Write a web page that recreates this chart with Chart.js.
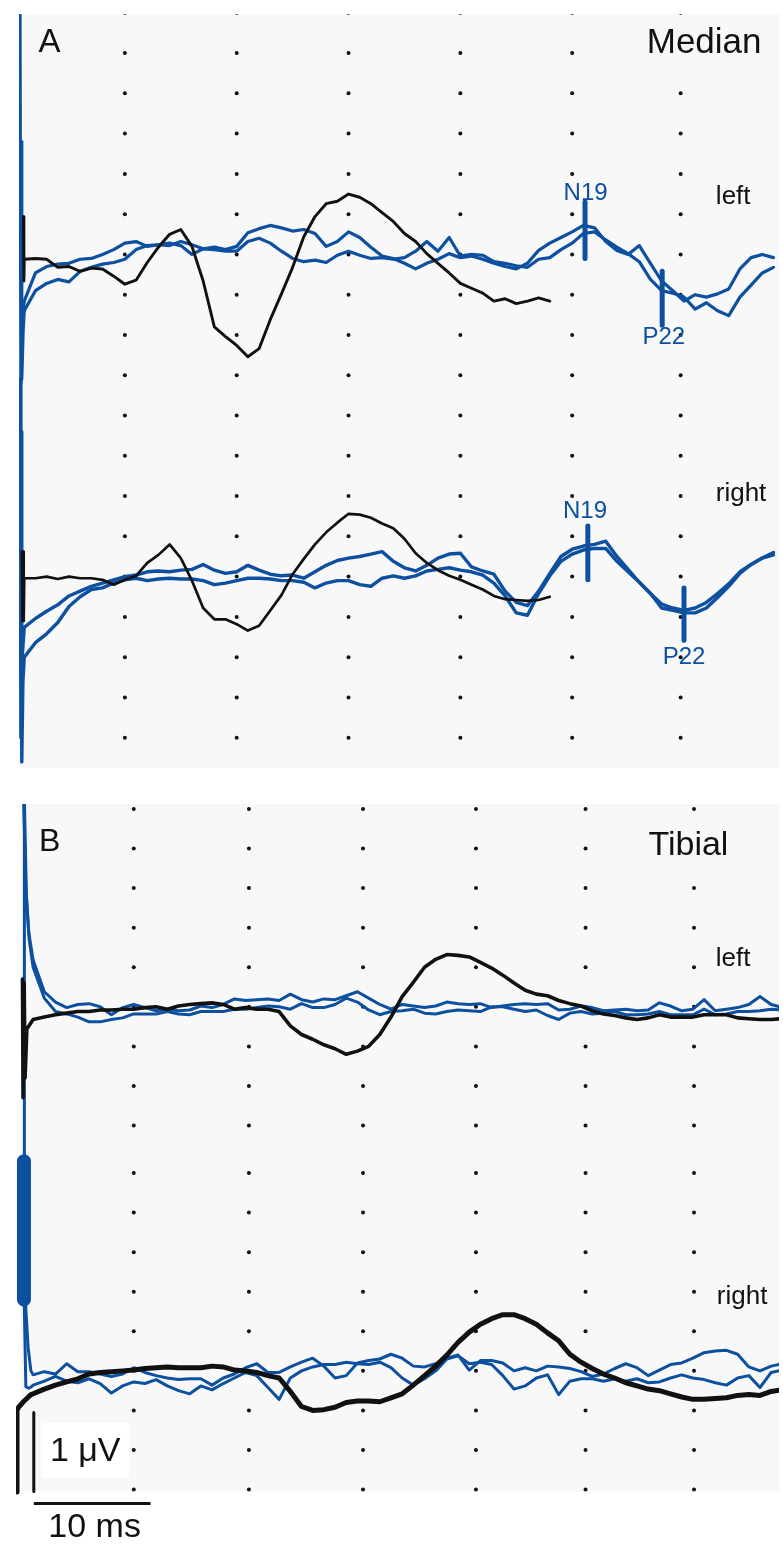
<!DOCTYPE html>
<html>
<head>
<meta charset="utf-8">
<script src="https://cdn.jsdelivr.net/npm/chart.js@4.4.1/dist/chart.umd.min.js"></script>
<style>
  body { margin: 0; background: #fff; width: 783px; height: 1548px; position: relative; overflow: hidden; }
  #chartA { position: absolute; left: 15px; top: 10px; }
  #chartB { position: absolute; left: 12px; top: 800px; }
</style>
</head>
<body>
<canvas id="chartA" width="768" height="762"></canvas>
<canvas id="chartB" width="771" height="748"></canvas>
<script>
// time base, ms after stimulus
const timeMs = [1,2,3,4,5,6,7,8,9,10,11,12,13,14,15,16,17,18,19,20,21,22,23,24,25,26,27,28,29,30,
  31,32,33,34,35,36,37,38,39,40,41,42,43,44,45,46,47,48,49,50,51,52,53,54,55,56,57,58,59,60,
  61,62,63,64,65,66,67,68];

// dotted grid (ms / uV)
const colsA = [10, 20, 30, 40, 50, 59.7];
const rowsA = [3, 2.5, 2, 1.5, 1, 0.5, 0, -0.5, -1, -1.5, -2, -2.5, -3, -3.5, -4, -4.5, -5, -5.5, -6];
const colsB = [10, 20.3, 30.5, 40.6, 50.4, 60.1];
const rowsB = [2.5, 2, 1.5, 1, 0.5, 0, -0.5, -1, -1.5, -2.1, -2.6, -3.1, -3.6, -4.1, -4.6, -5.1, -5.6, -6.1];

// baselines of the stacked recordings (uV)
const offsetA = [0, -4];
const offsetB = [0, -4.7];

// ---- A: median nerve, left ----
const medLeftBlack = [-0.06,-0.05,-0.06,-0.16,-0.15,-0.21,-0.17,-0.18,-0.27,-0.37,
  -0.32,-0.10,0.09,0.25,0.31,0.10,-0.33,-0.90,-1.02,-1.13,
  -1.27,-1.17,-0.81,-0.49,-0.16,0.22,0.47,0.63,0.66,0.75,
  0.71,0.63,0.52,0.41,0.26,0.16,0.01,-0.11,-0.23,-0.36,
  -0.42,-0.48,-0.58,-0.55,-0.61,-0.58,-0.54,-0.58];
const medLeftBlue1 = [-0.58,-0.23,-0.15,-0.12,-0.11,-0.06,-0.05,0.00,0.06,0.14,
  0.16,0.10,0.12,0.14,0.11,0.00,0.07,0.09,0.06,0.10,
  0.27,0.32,0.36,0.33,0.29,0.31,0.26,0.10,0.16,0.28,
  0.21,0.09,-0.02,-0.05,-0.11,-0.18,-0.11,-0.06,0.01,-0.04,
  -0.02,-0.06,-0.11,-0.15,-0.18,-0.11,0.05,0.14,0.21,0.28,
  0.36,0.33,0.16,0.05,0.00,0.11,-0.11,-0.33,-0.45,-0.58,
  -0.50,-0.53,-0.49,-0.43,-0.18,-0.04,0.00,-0.04];
const medLeftBlue2 = [-0.70,-0.45,-0.36,-0.31,-0.34,-0.21,-0.16,-0.12,-0.10,-0.06,
  0.06,0.11,0.12,0.11,0.16,0.12,0.07,0.06,0.04,0.04,
  0.16,0.20,0.14,0.04,-0.05,-0.09,-0.07,-0.10,-0.01,0.04,
  -0.01,-0.05,-0.04,-0.06,-0.04,0.04,0.16,0.04,0.21,-0.02,
  0.00,-0.01,-0.09,-0.11,-0.14,-0.16,-0.06,-0.04,0.06,0.14,
  0.26,0.28,0.18,0.09,0.01,-0.09,-0.31,-0.45,-0.48,-0.53,
  -0.68,-0.60,-0.70,-0.76,-0.53,-0.38,-0.23,-0.16];

// ---- A: median nerve, right ----
const medRightBlack = [-0.02,-0.02,0.00,-0.03,0.00,-0.02,-0.02,-0.04,-0.10,-0.04,
  0.01,0.17,0.27,0.40,0.23,-0.05,-0.39,-0.53,-0.53,-0.59,
  -0.67,-0.61,-0.42,-0.23,0.03,0.22,0.40,0.55,0.67,0.78,
  0.77,0.73,0.66,0.60,0.47,0.29,0.17,0.08,0.01,-0.04,
  -0.10,-0.16,-0.24,-0.28,-0.29,-0.30,-0.29,-0.25];
const medRightBlue1 = [-0.63,-0.52,-0.43,-0.35,-0.24,-0.18,-0.12,-0.08,-0.04,0.00,
  0.02,0.06,0.07,0.06,0.08,0.09,0.15,0.08,0.04,0.06,
  0.14,0.08,0.03,0.01,0.02,-0.02,0.06,0.14,0.20,0.23,
  0.25,0.28,0.31,0.19,0.11,0.07,0.14,0.23,0.28,0.29,
  0.12,0.07,0.03,-0.18,-0.32,-0.36,-0.18,0.04,0.25,0.34,
  0.38,0.40,0.44,0.25,0.09,-0.07,-0.21,-0.34,-0.39,-0.42,
  -0.39,-0.32,-0.21,-0.09,0.06,0.15,0.23,0.30];
const medRightBlue2 = [-1.00,-0.82,-0.71,-0.57,-0.37,-0.25,-0.16,-0.14,-0.08,-0.04,
  -0.02,-0.05,-0.03,-0.02,-0.03,-0.03,-0.05,-0.10,-0.08,-0.05,
  -0.02,-0.02,-0.03,-0.05,-0.05,-0.07,-0.14,-0.08,-0.05,-0.05,
  -0.10,-0.12,-0.02,0.01,-0.02,0.01,0.07,0.09,0.11,0.08,
  0.06,0.02,-0.08,-0.24,-0.45,-0.48,-0.21,0.01,0.19,0.28,
  0.33,0.35,0.35,0.19,0.06,-0.07,-0.21,-0.39,-0.42,-0.45,
  -0.45,-0.39,-0.26,-0.12,0.04,0.15,0.23,0.27];

// ---- B: tibial nerve, left ----
const tibLeftBlack = [-0.16,-0.13,-0.10,-0.08,-0.06,-0.06,-0.04,-0.04,-0.03,-0.03,
  -0.01,0.00,-0.03,0.01,0.03,0.04,0.05,0.03,-0.03,-0.01,
  -0.03,-0.03,-0.06,-0.24,-0.35,-0.41,-0.48,-0.53,-0.60,-0.56,
  -0.50,-0.35,-0.13,0.13,0.31,0.50,0.60,0.66,0.65,0.63,
  0.56,0.49,0.40,0.30,0.21,0.16,0.14,0.08,0.04,0.01,
  -0.05,-0.09,-0.11,-0.14,-0.16,-0.14,-0.10,-0.13,-0.13,-0.13,
  -0.10,-0.10,-0.10,-0.14,-0.15,-0.16,-0.16,-0.15];
const tibLeftBlue1 = [0.59,0.19,0.06,-0.01,0.03,0.04,0.00,-0.10,-0.01,0.03,
  -0.01,-0.05,-0.03,-0.05,-0.04,0.01,-0.01,0.03,0.10,0.08,
  0.09,0.10,0.08,0.16,0.09,0.06,0.10,0.09,0.14,0.19,
  0.11,0.03,-0.03,0.03,0.01,-0.01,0.01,0.06,0.04,0.03,
  0.04,-0.01,0.01,0.03,0.04,0.03,0.04,-0.04,-0.03,0.01,
  -0.01,-0.05,-0.04,-0.03,-0.05,-0.04,0.05,0.01,-0.05,-0.03,
  0.09,-0.05,-0.03,-0.01,0.03,0.13,0.03,-0.01];
const tibLeftBlue2 = [0.50,0.11,-0.06,-0.09,-0.13,-0.19,-0.19,-0.16,-0.14,-0.09,
  -0.09,-0.09,-0.06,-0.09,-0.10,-0.06,-0.06,-0.06,-0.03,-0.03,
  -0.01,0.01,0.00,-0.03,0.04,-0.01,-0.01,0.03,0.11,0.06,
  -0.04,-0.10,-0.06,-0.05,-0.03,-0.08,-0.09,-0.06,-0.04,-0.05,
  -0.06,0.00,0.00,-0.03,-0.06,-0.04,-0.11,-0.16,-0.08,-0.06,
  -0.09,-0.08,-0.06,-0.10,-0.10,-0.09,-0.06,-0.10,-0.10,-0.10,
  -0.03,-0.10,-0.09,-0.06,-0.06,-0.05,-0.03,-0.04];

// ---- B: tibial nerve, right ----
const tibRightBlack = [-0.19,-0.13,-0.08,-0.04,0.00,0.06,0.08,0.09,0.10,0.11,
  0.13,0.14,0.15,0.14,0.14,0.14,0.16,0.15,0.11,0.10,
  0.08,0.04,0.01,-0.16,-0.35,-0.40,-0.39,-0.36,-0.30,-0.28,
  -0.28,-0.29,-0.24,-0.19,-0.08,0.04,0.16,0.30,0.46,0.59,
  0.69,0.76,0.81,0.81,0.76,0.69,0.58,0.48,0.31,0.21,
  0.13,0.06,0.01,-0.05,-0.09,-0.13,-0.15,-0.19,-0.23,-0.26,
  -0.26,-0.25,-0.24,-0.21,-0.20,-0.21,-0.16,-0.14];
const tibRightBlue1 = [0.05,0.09,0.06,0.19,0.09,0.09,0.06,0.03,0.06,0.14,
  0.08,0.04,0.01,-0.01,0.00,0.00,-0.08,0.01,0.06,0.14,
  0.19,0.08,0.08,0.15,0.21,0.26,0.16,0.01,0.04,0.20,
  0.23,0.25,0.31,0.26,0.16,0.15,0.19,0.26,0.30,0.11,
  0.23,0.23,0.20,0.10,0.14,0.10,0.16,0.15,0.13,0.09,
  0.03,0.06,0.13,0.19,0.14,0.04,0.11,0.18,0.20,0.26,
  0.33,0.35,0.36,0.31,0.15,0.10,0.16,0.19];
const tibRightBlue2 = [-0.08,-0.03,0.03,-0.03,-0.05,0.00,-0.06,-0.18,-0.09,-0.04,
  -0.06,-0.01,-0.09,-0.15,-0.19,-0.09,-0.14,-0.06,0.01,0.08,
  0.04,-0.11,-0.26,0.01,0.10,0.15,0.18,0.18,0.21,0.19,
  0.18,0.21,0.14,0.01,-0.08,0.00,0.10,0.25,0.29,0.19,
  0.21,0.18,0.04,-0.13,-0.09,0.01,0.05,-0.20,-0.03,0.00,
  0.00,-0.03,0.00,-0.03,0.00,-0.05,-0.04,0.01,0.05,0.01,
  -0.01,-0.05,-0.08,0.01,0.04,-0.11,0.08,0.11];

// stimulus artefacts [ms, uV] before the first sample
const artMedLeftBlack = [[0.93, 0.47], [0.97, -0.33]];
const artMedLeftBlue1 = [[0.62, 3.05], [0.70, -1.6], [0.82, -0.85]];
const artMedLeftBlue2 = [[0.72, 1.4], [0.78, -1.55], [0.90, -0.95]];
const artMedRightBlack = [[0.80, 0.31], [0.85, -0.55], [0.90, 0.31], [0.95, -0.55]];
const artMedRightBlue1 = [[0.64, 2.45], [0.70, -2.0], [0.84, -0.95]];
const artMedRightBlue2 = [[0.72, 1.8], [0.78, -2.3], [0.88, -1.3]];
const artTibLeftBlack = [[0.05, 0.35], [0.10, -1.15], [0.20, 0.30], [0.28, -0.9], [0.44, -0.28]];
const artTibLeftBlue1 = [[0.15, 2.6], [0.35, 1.5], [0.60, 0.95]];
const artTibLeftBlue2 = [[0.20, -1.95], [0.22, 2.6], [0.40, 1.4], [0.65, 0.85]];
const artTibRightBlack = [[-0.44, -1.43], [-0.44, -0.40], [-0.30, -0.36], [0.20, -0.28], [0.80, -0.20]];
const artTibRightBlue1 = [[0.30, 1.0], [0.55, 0.4], [0.80, 0.1]];
const artTibRightBlue2 = [[0.20, 1.0], [0.35, -0.1], [0.60, -0.12], [0.85, -0.1]];
const artTibRightBand = [[0.18, 2.75], [0.18, 1.0]];

// peak markers [ms, uV top, uV bottom]
const peakN19 = [[51.15, 0.65, -0.05], [51.4, -3.37, -4.04]];
const peakP22 = [[58.05, -0.21, -0.88], [60.0, -4.14, -4.79]];

const BLUE = '#0d50a0';
const BLACK = '#111111';
const PANEL = '#f8f8f8';
const FONT = '"Liberation Sans", Arial, sans-serif';

function series(values, offset, prefix) {
  const pts = prefix.map(p => ({ x: p[0], y: p[1] + offset }));
  values.forEach((v, i) => pts.push({ x: timeMs[i], y: v + offset }));
  return pts;
}
function trace(data, color, width, order, cap) {
  return { data, borderColor: color, borderWidth: width, showLine: true, pointRadius: 0,
    fill: false, tension: 0, order, borderJoinStyle: 'round', borderCapStyle: cap || 'round' };
}
function dots(cols, rows) {
  const pts = [];
  rows.forEach(r => cols.forEach(c => pts.push({ x: c, y: r })));
  return { data: pts, showLine: false, pointRadius: 2, pointBackgroundColor: BLACK,
    pointBorderWidth: 0, order: 20 };
}
function marker(m) {
  return trace([{ x: m[0], y: m[1] }, { x: m[0], y: m[2] }], BLUE, 5, 2, 'butt');
}

// background, label boxes and text, placed through the scales
function decor(bgBottom, bgLeft, texts, boxes) {
  return {
    id: 'decor',
    beforeDatasetsDraw(chart) {
      const { ctx, chartArea, scales } = chart;
      const x0 = bgLeft == null ? chartArea.left : scales.x.getPixelForValue(bgLeft);
      const y1 = bgBottom == null ? chartArea.bottom : scales.y.getPixelForValue(bgBottom);
      ctx.save();
      ctx.fillStyle = PANEL;
      ctx.fillRect(x0, chartArea.top, chartArea.right - x0, y1 - chartArea.top);
      ctx.restore();
    },
    afterDatasetsDraw(chart) {
      const { ctx, scales } = chart;
      ctx.save();
      boxes.forEach(b => {
        const xa = scales.x.getPixelForValue(b[0]), xb = scales.x.getPixelForValue(b[1]);
        const ya = scales.y.getPixelForValue(b[2]), yb = scales.y.getPixelForValue(b[3]);
        ctx.fillStyle = b[4];
        ctx.fillRect(xa, ya, xb - xa, yb - ya);
      });
      ctx.textAlign = 'center';
      ctx.textBaseline = 'middle';
      texts.forEach(t => {
        ctx.font = t.size + 'px ' + FONT;
        ctx.fillStyle = t.color || BLACK;
        ctx.fillText(t.text, scales.x.getPixelForValue(t.x), scales.y.getPixelForValue(t.y));
      });
      ctx.restore();
    }
  };
}

function baseOptions(xmin, xmax, ymin, ymax) {
  return {
    responsive: false,
    animation: false,
    events: [],
    layout: { padding: 0 },
    plugins: { legend: { display: false }, tooltip: { enabled: false } },
    scales: {
      x: { type: 'linear', display: false, min: xmin, max: xmax },
      y: { type: 'linear', display: false, min: ymin, max: ymax }
    }
  };
}

// Panel A
const textsA = [
  { text: 'A', x: 3.27, y: 2.62, size: 33 },
  { text: 'Median', x: 61.8, y: 2.62, size: 35 },
  { text: 'left', x: 64.4, y: 0.71, size: 26 },
  { text: 'right', x: 65.1, y: -2.97, size: 26 },
  { text: 'N19', x: 51.2, y: 0.76, size: 24, color: BLUE },
  { text: 'P22', x: 58.2, y: -1.03, size: 24, color: BLUE },
  { text: 'N19', x: 51.15, y: -3.19, size: 24, color: BLUE },
  { text: 'P22', x: 60.0, y: -5.0, size: 24, color: BLUE }
];
new Chart(document.getElementById('chartA'), {
  type: 'scatter',
  data: {
    datasets: [
      dots(colsA, rowsA),
      trace(series(medLeftBlue1, offsetA[0], artMedLeftBlue1), BLUE, 3.2, 5),
      trace(series(medLeftBlue2, offsetA[0], artMedLeftBlue2), BLUE, 3.2, 5),
      trace(series(medRightBlue1, offsetA[1], artMedRightBlue1), BLUE, 3.4, 5),
      trace(series(medRightBlue2, offsetA[1], artMedRightBlue2), BLUE, 3.4, 5),
      trace(series(medLeftBlack, offsetA[0], artMedLeftBlack), BLACK, 2.9, 1),
      trace(series(medRightBlack, offsetA[1], artMedRightBlack), BLACK, 2.7, 1),
      marker(peakN19[0]), marker(peakP22[0]), marker(peakN19[1]), marker(peakP22[1])
    ]
  },
  options: baseOptions(0.531, 68.496, -6.376, 2.985),
  plugins: [decor(null, null, textsA, [[56.5, 67.2, 2.88, 2.36, PANEL]])]
});

// Panel B
const textsB = [
  { text: 'B', x: 2.48, y: 2.08, size: 32 },
  { text: 'Tibial', x: 59.6, y: 2.04, size: 34 },
  { text: 'left', x: 63.6, y: 0.61, size: 26 },
  { text: 'right', x: 64.4, y: -3.66, size: 26 },
  { text: '1 \u03bcV', x: 5.66, y: -5.62, size: 34 },
  { text: '10 ms', x: 6.5, y: -6.58, size: 34 }
];
const scaleBarV = [{ x: 1.06, y: -5.125 }, { x: 1.06, y: -6.125 }];
const scaleBarH = [{ x: 1.06, y: -6.275 }, { x: 11.5, y: -6.275 }];
new Chart(document.getElementById('chartB'), {
  type: 'scatter',
  data: {
    datasets: [
      dots(colsB, rowsB),
      trace(series(tibLeftBlue1, offsetB[0], artTibLeftBlue1), BLUE, 3, 5),
      trace(series(tibLeftBlue2, offsetB[0], artTibLeftBlue2), BLUE, 3, 5),
      trace(series(tibRightBlue1, offsetB[1], artTibRightBlue1), BLUE, 3, 5),
      trace(series(tibRightBlue2, offsetB[1], artTibRightBlue2), BLUE, 3, 5),
      trace(series([], offsetB[1], artTibRightBand), BLUE, 14, 5, 'butt'),
      trace(series(tibLeftBlack, offsetB[0], artTibLeftBlack), BLACK, 3.6, 1),
      trace(series(tibRightBlack, offsetB[1], artTibRightBlack), BLACK, 5, 1),
      trace(scaleBarV, BLACK, 3, 0, 'butt'),
      trace(scaleBarH, BLACK, 3, 0, 'butt')
    ]
  },
  options: baseOptions(-0.531, 67.699, -6.7875, 2.5625),
  plugins: [decor(-6.125, -0.09, textsB, [
    [1.77, 9.56, -5.26, -5.95, '#ffffff'],
    [55.6, 63.6, 2.35, 1.72, PANEL]
  ])]
});
</script>
</body>
</html>
